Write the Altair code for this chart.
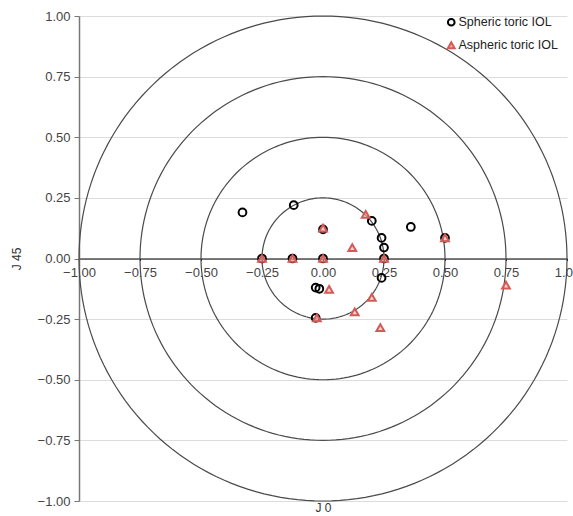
import altair as alt
import pandas as pd

# Spheric toric IOL (J0, J45)
sph_j0 = [-0.33, -0.12, 0.20, 0.24, 0.25, 0.36, 0.24, -0.03, -0.015, -0.25, -0.125, 0.00, 0.00, 0.25, 0.50, -0.03]
sph_j45 = [0.19, 0.22, 0.155, 0.085, 0.045, 0.13, -0.08, -0.12, -0.125, 0.00, 0.00, 0.00, 0.12, 0.00, 0.085, -0.245]

# Aspheric toric IOL (J0, J45)
asp_j0 = [-0.25, -0.125, 0.00, 0.00, 0.025, 0.175, 0.12, 0.25, 0.50, 0.75, 0.20, 0.13, 0.235, -0.025]
asp_j45 = [0.00, 0.00, 0.00, 0.125, -0.127, 0.182, 0.045, 0.00, 0.085, -0.11, -0.16, -0.22, -0.285, -0.245]

groups = ["Spheric toric IOL", "Aspheric toric IOL"]
radii = [0.25, 0.50, 0.75, 1.00]
ticks = [-1.0, -0.75, -0.5, -0.25, 0.0, 0.25, 0.5, 0.75, 1.0]

pts = pd.DataFrame(
    {"J0": sph_j0, "J45": sph_j45, "group": groups[0]}
)
pts = pd.concat(
    [pts, pd.DataFrame({"J0": asp_j0, "J45": asp_j45, "group": groups[1]})],
    ignore_index=True,
)

W, H = 488, 485
xs = alt.Scale(domain=[-1, 1], nice=False, zero=False)
ys = alt.Scale(domain=[-1, 1], nice=False, zero=False)
FONT = "Liberation Sans"

x_axis = alt.Axis(
    values=ticks, format=".2f", grid=False, offset=-H / 2, domainColor="#000",
    domainWidth=1.2, tickColor="#000", tickSize=2, labelPadding=6,
    labelFontSize=13, labelColor="#444", labelFont=FONT, labelFlush=False,
    labelOverlap=False,
    title="J 0", titleFont=FONT, titleFontSize=12, titleColor="#333",
    titleFontWeight="normal", titleY=H / 2 + 6, titleBaseline="middle",
)
y_axis = alt.Axis(
    values=ticks, format=".2f", grid=True, gridColor="#dcdcdc", gridWidth=1,
    domainColor="#777", domainWidth=1.5, tickColor="#777", tickSize=5,
    labelPadding=4, labelFontSize=13, labelColor="#444", labelFont=FONT,
    labelFlush=False, labelOverlap=False,
    title="J 45", titleFont=FONT, titleFontSize=12, titleColor="#333",
    titleFontWeight="normal", titleX=-63, titleY=H / 2, titleAngle=-90,
    titleAlign="center", titleBaseline="middle",
)

# background axis/grid layer
base = alt.Chart(pts).mark_point(opacity=0).encode(
    x=alt.X("J0:Q", scale=xs, axis=x_axis),
    y=alt.Y("J45:Q", scale=ys, axis=y_axis),
)

circle_layers = []
for r in radii:
    c = (
        alt.Chart(alt.sequence(0, 362, 2, as_="t"))
        .transform_calculate(
            cx=f"{r}*cos(datum.t*PI/180)", cy=f"{r}*sin(datum.t*PI/180)"
        )
        .mark_line(color="#4a4a4a", strokeWidth=1.2)
        .encode(
            x=alt.X("cx:Q", scale=xs),
            y=alt.Y("cy:Q", scale=ys),
            order="t:Q",
        )
    )
    circle_layers.append(c)

legend = alt.Legend(
    title=None, orient="none", legendX=366, legendY=0, labelFont=FONT,
    labelFontSize=12.5, labelColor="#222", symbolSize=45, symbolStrokeWidth=2,
    rowPadding=8, labelOffset=1, padding=0,
)

points = alt.Chart(pts).mark_point(filled=False, strokeWidth=2, fillOpacity=0.55, size=60).encode(
    x=alt.X("J0:Q", scale=xs),
    y=alt.Y("J45:Q", scale=ys),
    shape=alt.Shape("group:N", scale=alt.Scale(domain=groups, range=["circle", "triangle-up"]), legend=legend),
    stroke=alt.Stroke("group:N", scale=alt.Scale(domain=groups, range=["#000000", "#d45a56"]), legend=legend),
    fill=alt.Fill("group:N", scale=alt.Scale(domain=groups, range=["transparent", "#f3b3b1"]), legend=legend),
)

chart = alt.layer(base, *circle_layers, points).properties(
    width=W, height=H,
    autosize=alt.AutoSizeParams(type="none"),
    padding={"left": 79, "top": 16, "right": 6, "bottom": 15},
    background="white",
).configure_view(stroke=None)

chart.save("out.html", embed_options={"renderer": "svg", "actions": False})
